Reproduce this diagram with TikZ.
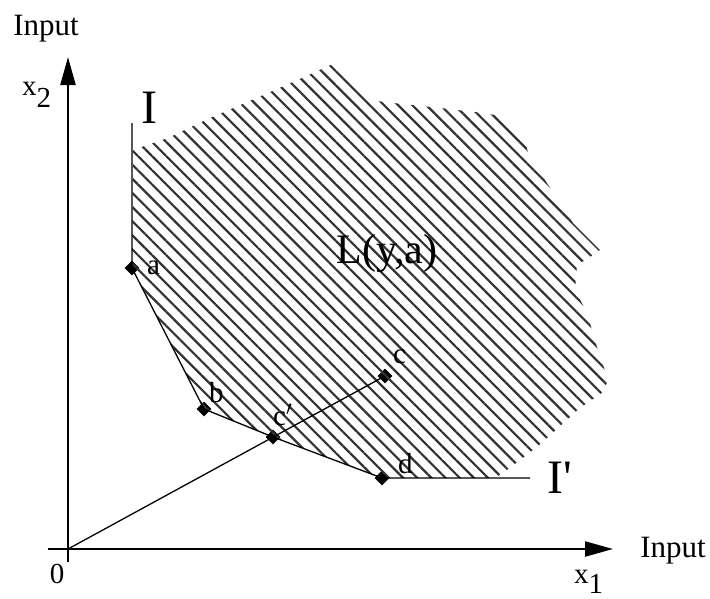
\documentclass[tikz,border=0pt]{standalone}
\usepackage{fontspec}
\setmainfont{Liberation Serif}
\usetikzlibrary{positioning,arrows.meta,shapes.geometric,patterns.meta}

\begin{document}
\begin{tikzpicture}[x=1pt, y=-1pt, every node/.style={inner sep=0pt}]
\tikzset{
  axis/.style={line width=2.2pt, -{Triangle[length=28pt,width=15pt]}},
  curve/.style={line width=1.3pt},
  dot/.style={diamond, aspect=1, fill=black, minimum width=15pt, minimum height=15pt, inner sep=0pt},
  ptlabel/.style={font=\fontsize{29}{32}\selectfont, anchor=base west},
  axlabel/.style={font=\fontsize{31}{36}\selectfont, anchor=base},
  big/.style={font=\fontsize{48}{52}\selectfont, anchor=base west},
  hatch/.style={pattern={Lines[angle=-45,distance=10pt,line width=2.2pt]}, pattern color=black!80}
}
\useasboundingbox (0,0) rectangle (710,598);

% points of the isoquant
\coordinate (O) at (68,549);
\coordinate (top) at (132,123);
\coordinate (end) at (530,478);
\node[dot] (a) at (132,268) {};
\node[dot] (b) at (204,409) {};
\node[dot] (cp) at (273,437) {};
\node[dot] (c) at (385,376) {};
\node[dot] (d) at (382,478) {};

% hatched set L(y,a)
\fill[hatch] (133,150) -- (168,138) -- (210,118) -- (252,100) -- (293,82) -- (335,63)
  -- (353,83) -- (368,100) -- (393,103) -- (440,108) -- (483,113) -- (507,117) -- (523,133)
  -- (530,160) -- (543,177) -- (573,223) -- (600,250) -- (590,257) -- (577,265) -- (575,290)
  -- (587,313) -- (597,347) -- (608,380) -- (603,392) -- (580,408) -- (537,447) -- (503,473)
  -- (495,478) -- (d.center) -- (cp.center) -- (b.center) -- (a.center) -- cycle;

% axes
\node (xaxis) at (47,549) {};
\node (yaxis) at (68,563) {};
\draw[axis] (xaxis) -- (613,549);
\draw[axis] (yaxis) -- (68,57);

% isoquant and ray
\draw[curve] (top) -- (a.center) -- (b.center) -- (cp.center) -- (d.center) -- (end);
\draw[curve] (O) -- (c.center);

% labels
\node[axlabel] (inY) at (46,35) {Input};
\node[axlabel] (inX) at (673,557) {Input};
\node[ptlabel] (x2) at (22,95) {x\raisebox{-12pt}{2}};
\node[ptlabel] (x1) at (574,583) {x\raisebox{-10pt}{1}};
\node[ptlabel, anchor=base] (zero) at (57,583) {0};
\node[big] (I) at (141,123) {I};
\node[big] (Ip) at (547,493) {I\textquotesingle};
\node[font=\fontsize{42}{46}\selectfont, anchor=base] (L) at (387,263) {L(y,a)};
\node[ptlabel] (la) at (147,274) {a};
\node[ptlabel] (lb) at (209,402) {b};
\node[ptlabel] (lcp) at (273,425) {c$'$};
\node[ptlabel] (lc) at (393,363) {c};
\node[ptlabel] (ld) at (398,473) {d};
\end{tikzpicture}
\end{document}
